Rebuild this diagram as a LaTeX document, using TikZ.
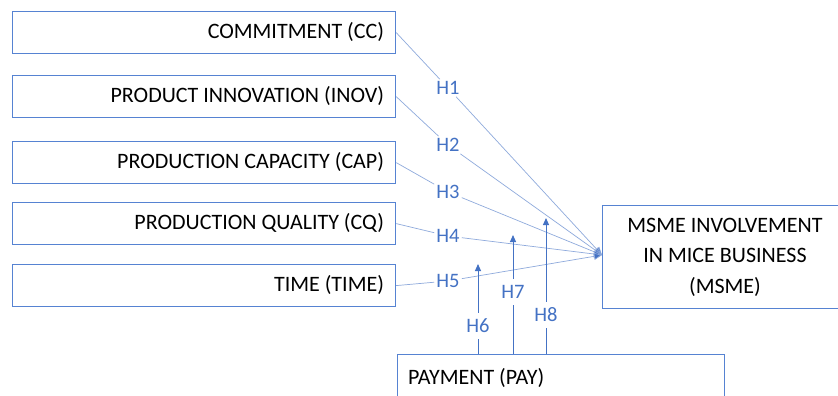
\documentclass[tikz,border=0pt]{standalone}
\usepackage{fontspec}
\setmainfont{Carlito}
\usetikzlibrary{arrows.meta}
\definecolor{boxblue}{HTML}{5683D2}
\definecolor{lineblue}{HTML}{8FAADC}
\definecolor{hblue}{HTML}{4472C4}
\begin{document}
\begin{tikzpicture}[x=1pt,y=-1pt,
  varbox/.style={draw=boxblue,line width=1.2pt,minimum width=383pt,minimum height=42pt,
    inner sep=0pt,anchor=north west},
  btext/.style={anchor=east,inner sep=0pt,font=\fontsize{22}{24}\selectfont},
  hlab/.style={fill=white,text=hblue,inner sep=2pt,font=\fontsize{20.5}{22}\selectfont},
  thin line/.style={draw=lineblue,line width=0.7pt},
  mod line/.style={draw=hblue,line width=1pt,-{Triangle[length=7pt,width=6pt]}},
  tipline/.style={thin line,-{Triangle[length=8pt,width=7pt,fill=hblue]}}
]
\useasboundingbox (0,0) rectangle (838,396);
\fill[white] (0,0) rectangle (838,396);
% left boxes
\node[varbox] (cc) at (12,11) {};
\node[btext] at ([xshift=-12pt,yshift=1pt]cc.east) {COMMITMENT (CC)};
\node[varbox] (inov) at (12,75) {};
\node[btext] at ([xshift=-12pt,yshift=1pt]inov.east) {PRODUCT INNOVATION (INOV)};
\node[varbox] (cap) at (12,141) {};
\node[btext] at ([xshift=-12pt,yshift=1pt]cap.east) {PRODUCTION CAPACITY (CAP)};
\node[varbox] (cq) at (12,202) {};
\node[btext] at ([xshift=-12pt,yshift=1pt]cq.east) {PRODUCTION QUALITY (CQ)};
\node[varbox] (time) at (12,264) {};
\node[btext] at ([xshift=-12pt,yshift=1pt]time.east) {TIME (TIME)};
% dependent
\node[draw=boxblue,line width=1.2pt,anchor=north west,minimum width=245pt,minimum height=103pt,
  inner sep=0pt] (msme) at (602,205) {};
\node[align=center,font=\fontsize{22}{30.5}\selectfont] at (725,257) {MSME INVOLVEMENT\\IN MICE BUSINESS\\(MSME)};
% moderator
\node[draw=boxblue,line width=1.2pt,anchor=north west,minimum width=327pt,minimum height=60pt,
  inner sep=0pt] (pay) at (397,354) {};
\node[anchor=west,inner sep=0pt,font=\fontsize{22}{24}\selectfont] at (408,378) {PAYMENT (PAY)};
\coordinate (t) at (602,255);
% hypothesis labels
\node[hlab] (h1) at (448,88) {H1};
\node[hlab] (h2) at (448,145) {H2};
\node[hlab] (h3) at (448,192) {H3};
\node[hlab] (h4) at (448,236) {H4};
\node[hlab] (h5) at (448,281) {H5};
\draw[thin line] (cc.east) -- (h1);
\draw[tipline] (h1) -- (t);
\draw[thin line] (inov.east) -- (h2);
\draw[tipline] (h2) -- (t);
\draw[thin line] (cap.east) -- (h3);
\draw[tipline] (h3) -- (t);
\draw[thin line] (cq.east) -- (h4);
\draw[tipline] (h4) -- (t);
\draw[thin line] (time.east) -- (h5);
\draw[tipline] (h5) -- (t);
% moderating arrows
\coordinate (m6) at (478,264);
\coordinate (m7) at (513,235);
\coordinate (m8) at (546,218);
\node[hlab,inner ysep=6pt] (h6) at (478,326) {H6};
\node[hlab,inner ysep=6pt] (h7) at (513,292) {H7};
\node[hlab,inner ysep=6pt] (h8) at (546,315) {H8};
\draw[draw=hblue,line width=1pt] (h6 |- pay.north) -- (h6);
\draw[mod line] (h6) -- (m6);
\draw[draw=hblue,line width=1pt] (h7 |- pay.north) -- (h7);
\draw[mod line] (h7) -- (m7);
\draw[draw=hblue,line width=1pt] (h8 |- pay.north) -- (h8);
\draw[mod line] (h8) -- (m8);
\end{tikzpicture}
\end{document}
